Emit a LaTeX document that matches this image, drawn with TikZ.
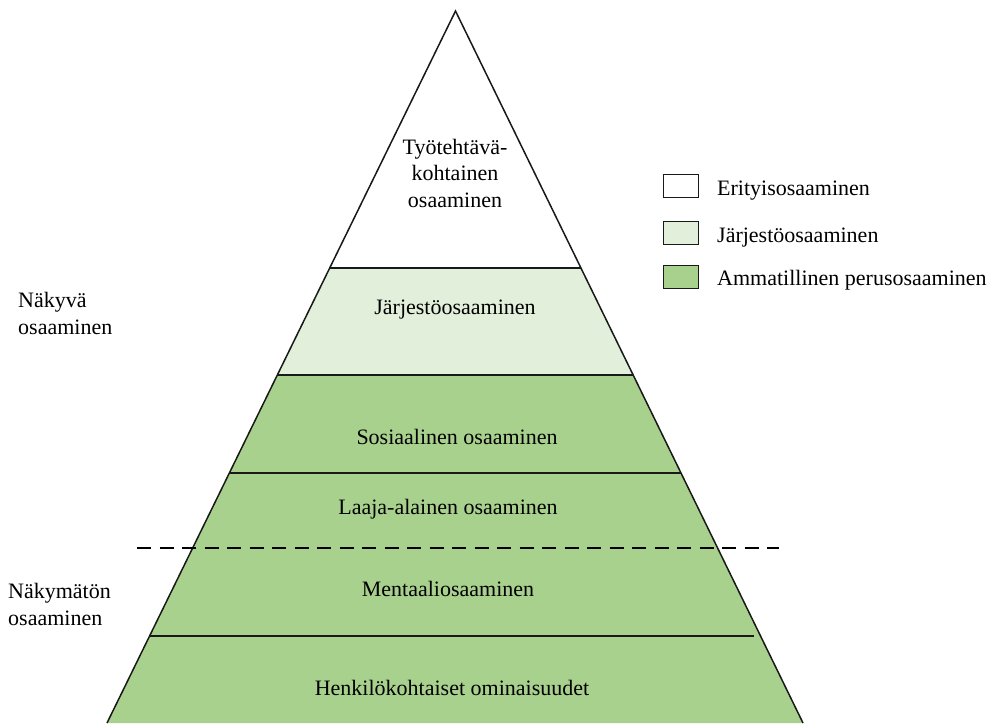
\documentclass[tikz,border=0pt]{standalone}
\usepackage{fontspec}
\setmainfont{Liberation Serif}
\usetikzlibrary{calc}
\definecolor{lightgreen}{HTML}{E2EFDA}
\definecolor{midgreen}{HTML}{A9D18E}
\begin{document}
\begin{tikzpicture}[x=1pt,y=-1pt,
  lbl/.style={font=\fontsize{22}{26.5}\selectfont, align=center, inner sep=0pt},
  sidelbl/.style={font=\fontsize{22}{27}\selectfont, align=left, inner sep=0pt, anchor=west},
  edge/.style={line width=1.5pt, black!90},
  band/.style={line width=1.4pt, black!90},
  legbox/.style={draw=black!90, line width=1.2pt, minimum width=35pt, minimum height=23pt, inner sep=0pt}]
\useasboundingbox (0,0) rectangle (995,723);
\coordinate (A) at (455.5,11);
\coordinate (BL) at (107,723);
\coordinate (BR) at (803,723);
\coordinate (L1) at ($(A)!0.3610!(BL)$); \coordinate (R1) at ($(A)!0.3610!(BR)$);
\coordinate (L2) at ($(A)!0.5112!(BL)$); \coordinate (R2) at ($(A)!0.5112!(BR)$);
\coordinate (L3) at ($(A)!0.6489!(BL)$); \coordinate (R3) at ($(A)!0.6489!(BR)$);
\coordinate (L4) at ($(A)!0.8778!(BL)$); \coordinate (R4) at ($(A)!0.8778!(BR)$);
% fills
\fill[white] (A) -- (L1) -- (R1) -- cycle;
\fill[lightgreen] (L1) -- (L2) -- (R2) -- (R1) -- cycle;
\fill[midgreen] (L2) -- (BL) -- (BR) -- (R2) -- cycle;
% band lines
\draw[band] (L1) -- (R1);
\draw[band] (L2) -- (R2);
\draw[band] (L3) -- (R3);
\draw[band] (L4) -- ($(R4)+(-7,0)$);
% outline
\draw[edge, line join=miter] (BL) -- (A) -- (BR);
% dashed separator
\coordinate (D1) at (137,548);
\coordinate (D2) at (779,548);
\draw[line width=2.8pt, dash pattern=on 14pt off 8.5pt] (D1) -- (D2);
% pyramid labels
\node[lbl] (t1) at (455,173) {Työtehtävä-\\kohtainen\\osaaminen};
\node[lbl] (t2) at (455,310) {Järjestöosaaminen};
\node[lbl] (t3) at (457,437) {Sosiaalinen osaaminen};
\node[lbl] (t4) at (448,509) {Laaja-alainen osaaminen};
\node[lbl] (t5) at (448,589) {Mentaaliosaaminen};
\node[lbl] (t6) at (452,688) {Henkilökohtaiset ominaisuudet};
% side labels
\node[sidelbl] (s1) at (18,313) {Näkyvä\\osaaminen};
\node[sidelbl] (s2) at (8,604) {Näkymätön\\osaaminen};
% legend
\node[legbox, fill=white] (k1) at (681,186) {};
\node[legbox, fill=lightgreen] (k2) at (681,233) {};
\node[legbox, fill=midgreen] (k3) at (681,277) {};
\node[sidelbl, anchor=base west] (k1t) at (717,195) {Erityisosaaminen};
\node[sidelbl, anchor=base west] (k2t) at (717,242) {Järjestöosaaminen};
\node[sidelbl, anchor=base west] (k3t) at (717,285) {Ammatillinen perusosaaminen};
\end{tikzpicture}
\end{document}
